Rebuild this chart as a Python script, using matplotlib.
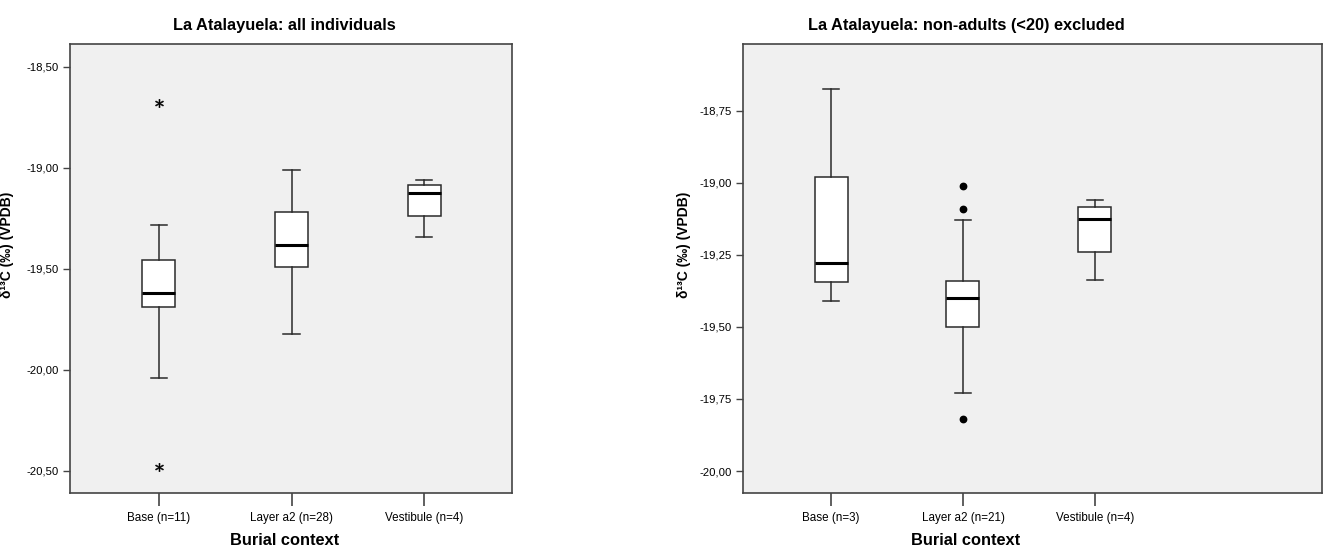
import matplotlib
matplotlib.use("Agg")
from matplotlib import pyplot
import matplotlib.ticker as ticker

pyplot.rcParams['font.family'] = ['Liberation Sans', 'DejaVu Sans']

# категории и значения
groups_all = ['Base (n=11)', 'Layer a2 (n=28)', 'Vestibule (n=4)']
lo_all = [-20.04, -19.82, -19.34]
q1_all = [-19.69, -19.49, -19.24]
med_all = [-19.62, -19.38, -19.125]
q3_all = [-19.455, -19.22, -19.086]
hi_all = [-19.28, -19.01, -19.06]
extremes_all = [[-18.68, -20.48], [], []]

groups_adult = ['Base (n=3)', 'Layer a2 (n=21)', 'Vestibule (n=4)']
lo_adult = [-19.41, -19.73, -19.338]
q1_adult = [-19.343, -19.50, -19.239]
med_adult = [-19.28, -19.40, -19.125]
q3_adult = [-18.979, -19.34, -19.085]
hi_adult = [-18.677, -19.13, -19.06]
outliers_adult = [[], [-19.01, -19.091, -19.821], []]

yticks_all = [-18.5, -19.0, -19.5, -20.0, -20.5]
yticks_adult = [-18.75, -19.0, -19.25, -19.5, -19.75, -20.0]


def stats(labels, lo, q1, med, q3, hi, fl):
    return [dict(label=labels[i], whislo=lo[i], q1=q1[i], med=med[i], q3=q3[i],
                 whishi=hi[i], fliers=fl[i]) for i in range(len(labels))]


def comma(v, pos):
    return ('%.2f' % v).replace('.', ',')


fig = pyplot.figure(figsize=(13.23, 5.51), dpi=100)
ax1 = fig.add_axes([0.0529, 0.1053, 0.334, 0.815])
ax2 = fig.add_axes([0.5616, 0.1053, 0.4376, 0.815])

edge = '#2a2a2a'
box_kw = dict(widths=0.25, capwidths=0.123, patch_artist=True,
              boxprops=dict(facecolor='white', edgecolor=edge, linewidth=1.1),
              whiskerprops=dict(color=edge, linewidth=1.1),
              capprops=dict(color=edge, linewidth=1.1),
              medianprops=dict(color='black', linewidth=2.2))

ax1.bxp(stats(groups_all, lo_all, q1_all, med_all, q3_all, hi_all, extremes_all),
        flierprops=dict(marker='$*$', markersize=6, markerfacecolor='black',
                        markeredgecolor='black', markeredgewidth=0.4, linestyle='none'), **box_kw)
ax2.bxp(stats(groups_adult, lo_adult, q1_adult, med_adult, q3_adult, hi_adult, outliers_adult),
        flierprops=dict(marker='o', markersize=4.6, markerfacecolor='black',
                        markeredgecolor='black', linestyle='none'), **box_kw)

ax1.set_xlim(0.33, 3.66)
ax1.set_ylim(-20.609, -18.386)
ax2.set_xlim(0.333, 4.72)
ax2.set_ylim(-20.076, -18.519)
ax1.set_yticks(yticks_all)
ax2.set_yticks(yticks_adult)

titles = ['La Atalayuela: all individuals', 'La Atalayuela: non-adults (<20) excluded']
title_x = [0.486, 0.385]
for ax, t, tx in zip([ax1, ax2], titles, title_x):
    ax.set_facecolor('#f0f0f0')
    for s in ax.spines.values():
        s.set_color('#444444')
        s.set_linewidth(1.2)
    ax.yaxis.set_major_formatter(ticker.FuncFormatter(comma))
    ax.tick_params(axis='y', direction='out', length=5, width=1, color='#444444',
                   labelsize=8.2, pad=3)
    ax.tick_params(axis='x', direction='out', length=9, width=1.2, color='#444444',
                   labelsize=8.4, pad=5)
    ax.set_title(t, x=tx, fontsize=11.8, fontweight='bold', pad=10)
    ax.set_xlabel('Burial context', x=tx, fontsize=11.8, fontweight='bold', labelpad=6)
    ax.set_ylabel('δ¹³C (‰) (VPDB)', fontsize=10, fontweight='bold')

ax1.yaxis.set_label_coords(-0.127, 0.552)
ax2.yaxis.set_label_coords(-0.09, 0.552)

fig.savefig('out.png')
